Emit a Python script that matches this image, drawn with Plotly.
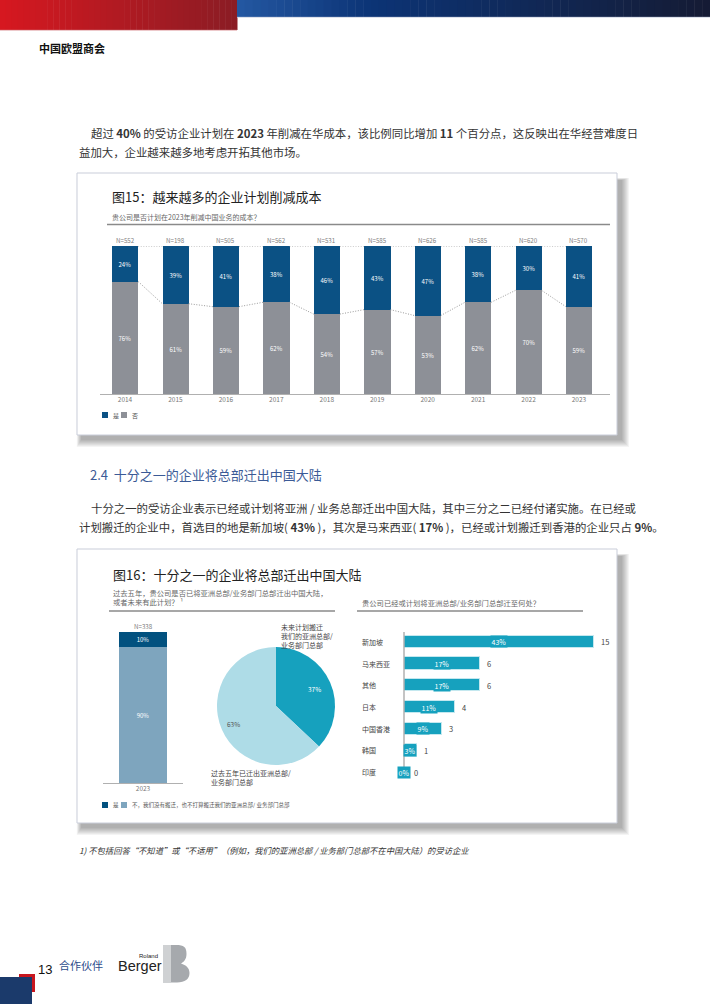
import math
import plotly.graph_objects as go

W, H = 710, 1004
def X(px): return px / W
def Y(py): return 1 - py / H

# ---------------- data ----------------
years = ["2014", "2015", "2016", "2017", "2018", "2019", "2020", "2021", "2022", "2023"]
n_resp = [552, 198, 505, 562, 531, 585, 626, 585, 620, 570]
yes_pct = [24, 39, 41, 38, 46, 43, 47, 38, 30, 41]
no_pct = [76, 61, 59, 62, 54, 57, 53, 62, 70, 59]

hq_year = ["2023"]
hq_n = 338
hq_yes = [10]
hq_no = [90]

pie_names = ["未来计划搬迁我们的亚洲总部/业务部门总部", "过去五年已迁出亚洲总部/业务部门总部"]
pie_values = [37, 63]

dest = ["新加坡", "马来西亚", "其他", "日本", "中国香港", "韩国", "印度"]
dest_count = [15, 6, 6, 4, 3, 1, 0]
dest_pct = [43, 17, 17, 11, 9, 3, 0]

# ---------------- colours ----------------
BLUE15 = "#0b5184"
GRAY15 = "#8d9097"
BLUE16 = "#02517f"
STEEL16 = "#7ea5be"
TEAL = "#16a1be"
LTEAL = "#aedce7"
FONT = "Noto Sans CJK SC, Liberation Sans, sans-serif"

fig = go.Figure()

# ---------------- Fig 15 stacked bars ----------------
xs = list(range(len(years)))
BW = 0.52
fig.add_trace(go.Bar(x=xs, y=no_pct, width=BW, marker=dict(color=GRAY15, line=dict(width=0)),
                     text=[f"{v}%" for v in no_pct], textposition="inside", insidetextanchor="middle",
                     textfont=dict(size=6, color="white"), name="否", showlegend=False,
                     xaxis="x", yaxis="y", hoverinfo="skip"))
fig.add_trace(go.Bar(x=xs, y=yes_pct, width=BW, marker=dict(color=BLUE15, line=dict(width=0)),
                     text=[f"{v}%" for v in yes_pct], textposition="inside", insidetextanchor="middle",
                     textfont=dict(size=6, color="white"), name="是", showlegend=False,
                     xaxis="x", yaxis="y", hoverinfo="skip"))
# dotted connectors
cx, cy, tx, ty = [], [], [], []
for i in range(len(years) - 1):
    cx += [i + BW / 2, i + 1 - BW / 2, None]
    cy += [no_pct[i], no_pct[i + 1], None]
    tx += [i + BW / 2, i + 1 - BW / 2, None]
    ty += [no_pct[i] + yes_pct[i], no_pct[i + 1] + yes_pct[i + 1], None]
for lx, ly in [(cx, cy), (tx, ty)]:
    fig.add_trace(go.Scatter(x=lx, y=ly, mode="lines", line=dict(color="#8f8f8f", width=0.9, dash="1px,1.6px"),
                             showlegend=False, xaxis="x", yaxis="y", hoverinfo="skip"))

# ---------------- Fig 16 left stacked bar ----------------
fig.add_trace(go.Bar(x=[0], y=hq_no, width=0.6, marker=dict(color=STEEL16, line=dict(width=0)),
                     text=[f"{v}%" for v in hq_no], textposition="inside", insidetextanchor="middle",
                     textfont=dict(size=6, color="white"), showlegend=False,
                     xaxis="x2", yaxis="y2", hoverinfo="skip"))
fig.add_trace(go.Bar(x=[0], y=hq_yes, width=0.6, marker=dict(color=BLUE16, line=dict(width=0)),
                     text=[f"{v}%" for v in hq_yes], textposition="inside", insidetextanchor="middle",
                     textfont=dict(size=6, color="white"), showlegend=False,
                     xaxis="x2", yaxis="y2", hoverinfo="skip"))

# ---------------- Fig 16 pie ----------------
PCX, PCY, PR = 276, 706, 59
fig.add_trace(go.Pie(values=pie_values, labels=pie_names, sort=False, direction="clockwise", rotation=0,
                     marker=dict(colors=[TEAL, LTEAL], line=dict(width=0)),
                     textinfo="none",
                     domain=dict(x=[X(PCX - PR), X(PCX + PR)], y=[Y(PCY + PR), Y(PCY - PR)]),
                     showlegend=False, hoverinfo="skip"))

# ---------------- Fig 16 horizontal bars ----------------
yi = list(range(len(dest)))
fig.add_trace(go.Bar(x=dest_count, y=yi, orientation="h", width=0.56,
                     marker=dict(color=TEAL, line=dict(color="#c4e8ef", width=1)),
                     showlegend=False, xaxis="x3", yaxis="y3", hoverinfo="skip"))

annotations = []
def txt(px, py, s, size, color="#333333", anchor="left", bold=False, family=FONT, italic=False, yanchor="middle"):
    if bold:
        s = f"<b>{s}</b>"
    annotations.append(dict(x=X(px), y=Y(py), xref="paper", yref="paper", text=s, showarrow=False,
                            xanchor=anchor, yanchor=yanchor,
                            font=dict(size=size, color=color, family=family,
                                      style="italic" if italic else "normal")))

# pie slice labels placed at slice mid-angles
cum = 0
tot = sum(pie_values)
pie_text_col = ["white", "#555555"]
pie_rfac = [0.72, 0.78]
for j, v in enumerate(pie_values):
    mid = (cum + v / 2) / tot * 2 * math.pi
    cum += v
    px = PCX + pie_rfac[j] * PR * math.sin(mid)
    py = PCY - pie_rfac[j] * PR * math.cos(mid)
    txt(px, py, f"{v}%", 6.5, pie_text_col[j], anchor="center")

for i, c in enumerate(dest_count):
    annotations.append(dict(x=c / 2, y=i, xref="x3", yref="y3", text=f"{dest_pct[i]}%", showarrow=False,
                            font=dict(size=7, color="white", family=FONT), bgcolor=TEAL, borderpad=0.5))
    annotations.append(dict(x=c, y=i, xref="x3", yref="y3", text=str(c), showarrow=False, xanchor="left",
                            xshift=5 if c > 0 else 8, font=dict(size=7.5, color="#444444", family=FONT)))
    annotations.append(dict(x=X(360), y=i, xref="paper", yref="y3", text=dest[i], showarrow=False,
                            xanchor="left", font=dict(size=7, color="#444444", family=FONT)))

# N labels
for i, n in enumerate(n_resp):
    annotations.append(dict(x=i, y=100, xref="x", yref="y", text=f"N={n}", showarrow=False, yanchor="bottom",
                            yshift=-1, font=dict(size=6.2, color="#808080", family=FONT)))
annotations.append(dict(x=0, y=100, xref="x2", yref="y2", text=f"N={hq_n}", showarrow=False, yanchor="bottom",
                        yshift=-1, font=dict(size=6.2, color="#808080", family=FONT)))

# page text
txt(37, 48, "中国欧盟商会", 11, "#111111", bold=True)
txt(89, 133, "超过 <b>40%</b> 的受访企业计划在 <b>2023</b> 年削减在华成本，该比例同比增加 <b>11</b> 个百分点，这反映出在华经营难度日", 11.4)
txt(77, 152, "益加大，企业越来越多地考虑开拓其他市场。", 11.4)
txt(110, 196, "图15：越来越多的企业计划削减成本", 13, "#222222")
txt(110, 217, "贵公司是否计划在2023年削减中国业务的成本？", 7, "#666666")
txt(88, 474, "2.4  十分之一的企业将总部迁出中国大陆", 13, "#3b5a96")
txt(89, 508, "十分之一的受访企业表示已经或计划将亚洲 / 业务总部迁出中国大陆，其中三分之二已经付诸实施。在已经或", 11.4)
txt(77, 527, "计划搬迁的企业中，首选目的地是新加坡( <b>43%</b> )，其次是马来西亚( <b>17%</b> )，已经或计划搬迁到香港的企业只占 <b>9%</b>。", 11.4)
txt(111, 574, "图16：十分之一的企业将总部迁出中国大陆", 13, "#222222")
txt(111, 593, "过去五年，贵公司是否已将亚洲总部/业务部门总部迁出中国大陆，", 7.3, "#666666")
txt(111, 602, "或者未来有此计划？ ¹", 7.3, "#666666")
txt(360, 603, "贵公司已经或计划将亚洲总部/业务部门总部迁至何处？", 7.3, "#666666")
txt(279, 627, "未来计划搬迁", 7, "#444444")
txt(279, 636, "我们的亚洲总部/", 7, "#444444")
txt(279, 645, "业务部门总部", 7, "#444444")
txt(209, 773, "过去五年已迁出亚洲总部/", 7, "#444444")
txt(209, 782, "业务部门总部", 7, "#444444")
# legends
txt(111, 415, "是", 6, "#555555")
txt(130, 415, "否", 6, "#555555")
txt(111, 805, "是", 5.5, "#555555")
txt(130, 805, "不，我们没有搬迁，也不打算搬迁我们的亚洲总部/ 业务部门总部", 5.5, "#555555")
txt(77, 850, "1) 不包括回答“不知道”或“不适用”（例如，我们的亚洲总部 / 业务部门总部不在中国大陆）的受访企业", 8.3, "#333333", italic=True)
# footer
txt(36, 969, "13", 13, "#111111", family="Liberation Sans, sans-serif")
txt(57, 965, "合作伙伴", 11, "#2b4c8c")
txt(137, 956, "Roland", 6, "#222222", family="Liberation Sans, sans-serif")
txt(116, 966, "Berger", 14.5, "#222222", family="Liberation Sans, sans-serif")

# ---------------- shapes ----------------
shapes = []
def rect(x0, y0, x1, y1, fill, line=None, lw=0, layer="below", opacity=1):
    shapes.append(dict(type="rect", xref="paper", yref="paper", x0=X(x0), x1=X(x1), y0=Y(y1), y1=Y(y0),
                       fillcolor=fill, line=dict(color=line or "rgba(0,0,0,0)", width=lw), layer=layer,
                       opacity=opacity))
def hline(x0, x1, y, color, w):
    shapes.append(dict(type="line", xref="paper", yref="paper", x0=X(x0), x1=X(x1), y0=Y(y), y1=Y(y),
                       line=dict(color=color, width=w), layer="above"))
def lerp(c0, c1, t):
    return "rgb(%d,%d,%d)" % tuple(int(round(a + (b - a) * t)) for a, b in zip(c0, c1))

# top banner gradients
n = 40
for k in range(n):
    x0 = 237 * k / n; x1 = 237 * (k + 1) / n + 0.5
    rect(x0, 0, x1, 30, lerp((214, 24, 32), (139, 28, 36), k / (n - 1)))
stops = [(237, (36, 88, 162)), (370, (12, 52, 118)), (710, (21, 27, 52))]
n = 60
for k in range(n):
    x0 = 237 + (710 - 237) * k / n; x1 = 237 + (710 - 237) * (k + 1) / n + 0.5
    xm = (x0 + x1) / 2
    if xm <= 370:
        c = lerp(stops[0][1], stops[1][1], (xm - 237) / 133)
    else:
        c = lerp(stops[1][1], stops[2][1], (xm - 370) / 340)
    rect(x0, 0, x1, 17, c)
hline(0, 237, 30.3, "#e2a9ad", 0.8)
hline(237, 710, 17.3, "#c9d0df", 0.8)

# boxes with shadows
for (bx0, by0, bx1, by1) in [(77, 173, 617, 435), (77, 549, 617, 823)]:
    for k in range(8):
        rect(bx0 + 4 - k * 0.6, by0 + 7 - k * 0.3, bx1 + 5 + k, by1 + 5 + k, "rgba(0,0,0,0.045)")
    rect(bx0, by0, bx1, by1, "white", line="#c9cdd9", lw=1)

# separators and baselines
hline(107, 610, 224.5, "#8a8a8a", 1.3)
hline(109, 335, 611, "#8a8a8a", 1.3)
hline(357, 583, 611, "#8a8a8a", 1.3)
hline(100, 610, 394.5, "#b0b0b0", 1)
hline(103, 183, 783.5, "#b0b0b0", 1)
shapes.append(dict(type="line", xref="paper", yref="paper", x0=X(404), x1=X(404), y0=Y(632), y1=Y(776),
                   line=dict(color="#b0b0b0", width=1.5), layer="above"))

# legend squares
rect(102, 412, 108, 418, BLUE15, layer="above")
rect(121, 412, 127, 418, GRAY15, layer="above")
rect(102, 802, 108, 808, BLUE16, layer="above")
rect(121, 802, 127, 808, STEEL16, layer="above")

# footer blocks
rect(19, 974, 35, 992, "#c8161e", layer="above")
rect(0, 977, 32, 1004, "#1b3a6b", layer="above")

# B logo
bpath = ("M {a},{b} L {c},{b} C {d},{b} {e},{f} {e},{g} C {e},{h} {i},{j} {k},{l} "
         "C {m},{n} {o},{p} {o},{q} C {o},{r} {s},{t} {u},{t} L {a},{t} Z")
pts = dict(a=X(163), b=Y(945), c=X(176), d=X(184), e=X(186.5), f=Y(947), g=Y(954),
           h=Y(959), i=X(184), j=Y(962), k=X(181), l=Y(963.5), m=X(186), n=Y(965),
           o=X(189.5), p=Y(968), q=Y(973), r=Y(979), s=X(185), t=Y(982.5), u=X(177))
shapes.append(dict(type="path", xref="paper", yref="paper", path=bpath.format(**pts),
                   fillcolor="#a6a9ad", line=dict(width=0), layer="above"))
rect(163, 945, 171, 982.5, "#cfd1d3", layer="above")

fig.update_layout(
    width=W, height=H, margin=dict(l=0, r=0, t=0, b=0),
    paper_bgcolor="white", plot_bgcolor="rgba(0,0,0,0)",
    font=dict(family=FONT),
    barmode="stack", bargap=0,
    showlegend=False,
    xaxis=dict(domain=[X(99.8), X(604.2)], range=[-0.5, 9.5], tickvals=xs, ticktext=years,
               tickfont=dict(size=6.5, color="#777777"), showgrid=False, zeroline=False, showline=False,
               ticks="", anchor="y", fixedrange=True),
    yaxis=dict(domain=[Y(394), Y(246)], range=[0, 100], visible=False, anchor="x", fixedrange=True),
    xaxis2=dict(domain=[X(103), X(183)], range=[-0.5, 0.5], tickvals=[0], ticktext=hq_year,
                tickfont=dict(size=6.5, color="#777777"), showgrid=False, zeroline=False, showline=False,
                ticks="", anchor="y2", fixedrange=True),
    yaxis2=dict(domain=[Y(783), Y(632)], range=[0, 100], visible=False, anchor="x2", fixedrange=True),
    xaxis3=dict(domain=[X(404), X(606.7)], range=[0, 16], visible=False, anchor="y3", fixedrange=True),
    yaxis3=dict(domain=[Y(783), Y(631)], range=[6.5, -0.5], visible=False, anchor="x3", fixedrange=True),
    shapes=shapes, annotations=annotations,
)

fig.write_html("out.html", config={"displayModeBar": False},
               post_script="document.body.style.margin='0';document.body.style.overflow='hidden';")
